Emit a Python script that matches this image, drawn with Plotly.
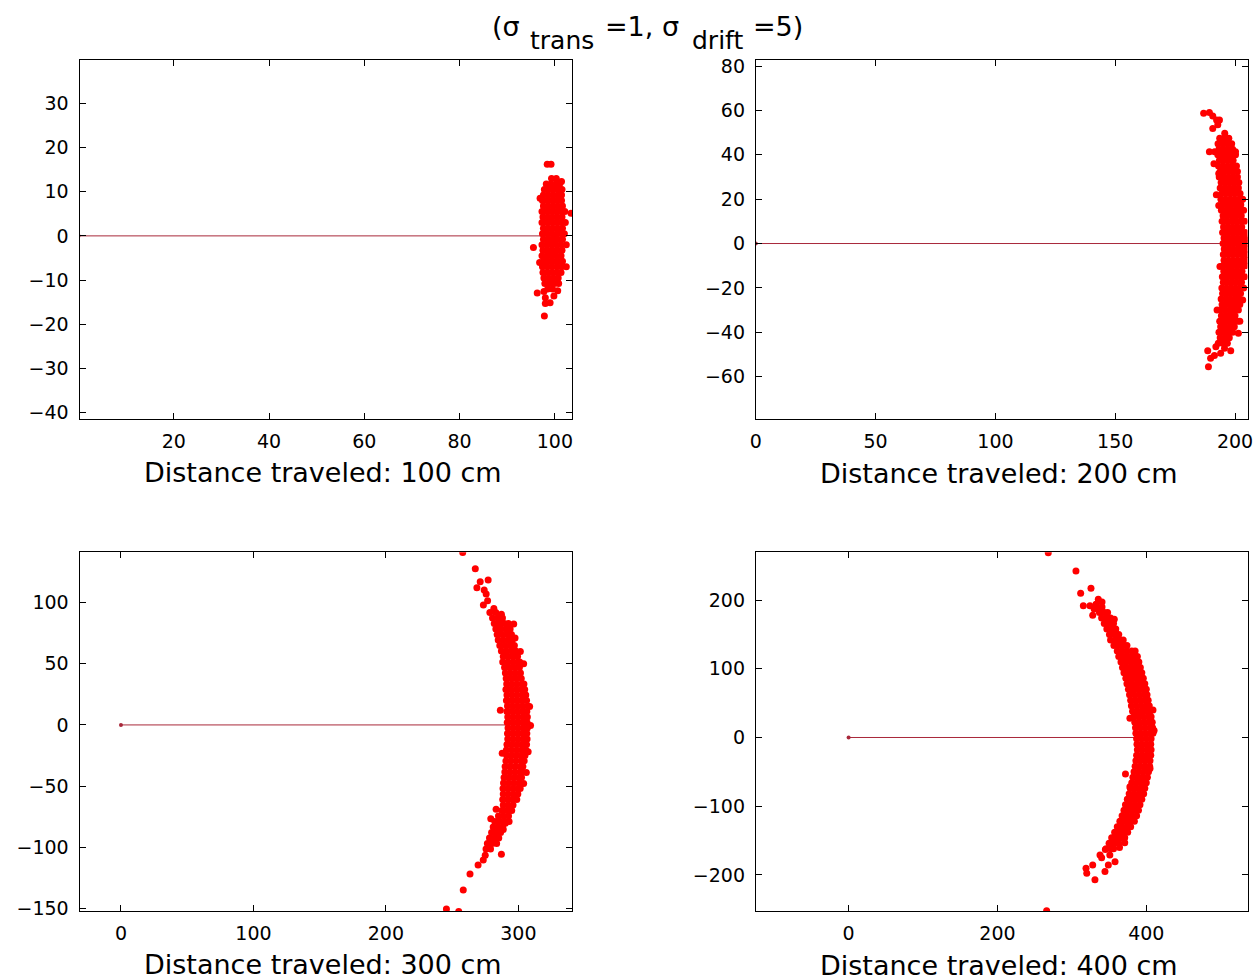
import plotly.graph_objects as go

FIG_W, FIG_H = 1260, 980

# ---------------- data ----------------
distances = [100, 200, 300, 400]
x_titles = ["Distance traveled: 100 cm", "Distance traveled: 200 cm",
            "Distance traveled: 300 cm", "Distance traveled: 400 cm"]

x_ranges = [[0.2, 103.6], [0, 205.2], [-31.3, 340.5], [-124.7, 536]]
y_ranges = [[-41.4, 39.7], [-79.1, 82.6], [-152.2, 141.2], [-252.4, 269.4]]
x_ticks = [[20, 40, 60, 80, 100], [0, 50, 100, 150, 200], [0, 100, 200, 300], [0, 200, 400]]
y_ticks = [[-40, -30, -20, -10, 0, 10, 20, 30], [-60, -40, -20, 0, 20, 40, 60, 80],
           [-150, -100, -50, 0, 50, 100], [-200, -100, 0, 100, 200]]

# panel 1 (100 cm): dense core rows (y, [x...]) and scattered points
p1_rows = [
    (13.0, [99.3, 100.3]),
    (11.75, [98.2, 99.2, 100.2, 101.0]),
    (10.5, [97.8, 98.8, 99.8, 100.8, 101.5]),
    (9.25, [97.6, 98.6, 99.6, 100.6, 101.4]),
    (8.0, [97.4, 98.4, 99.4, 100.4, 101.4]),
    (6.75, [97.6, 98.6, 99.6, 100.6, 101.6]),
    (5.5, [97.3, 98.3, 99.3, 100.3, 101.3, 102.1]),
    (4.25, [97.5, 98.5, 99.5, 100.5, 101.5]),
    (3.0, [97.3, 98.3, 99.3, 100.3, 101.3, 102.2]),
    (1.75, [97.6, 98.6, 99.6, 100.6, 101.6]),
    (0.5, [97.4, 98.4, 99.4, 100.4, 101.4, 102.0]),
    (-0.75, [97.6, 98.6, 99.6, 100.6, 101.6]),
    (-2.0, [97.3, 98.3, 99.3, 100.3, 101.3, 102.4]),
    (-3.25, [97.5, 98.5, 99.5, 100.5, 101.5]),
    (-4.5, [97.3, 98.3, 99.3, 100.3, 101.3]),
    (-5.75, [97.6, 98.6, 99.6, 100.6, 101.6]),
    (-7.0, [97.4, 98.4, 99.4, 100.4, 101.4]),
    (-8.25, [97.5, 98.5, 99.5, 100.5, 101.3]),
    (-9.5, [97.7, 98.7, 99.7, 100.7]),
    (-10.75, [97.9, 98.9, 99.9, 100.8]),
    (-12.0, [98.5, 99.5]),
]
p1_out_x = [98.4, 99.2, 103.4, 95.5, 96.3, 97.7, 98.0, 99.0, 99.8, 98.0, 97.8, 100.6, 101.4, 96.9, 96.8, 102.4]
p1_out_y = [16.2, 16.2, 5.1, -2.6, -12.9, -12.6, -14.0, -15.1, -13.6, -15.3, -18.1, -12.4, 12.3, 8.5, -6.0, -7.0]

# panel 2 (200 cm)
p2_rows = [
    (47.5, [193.6, 195.8, 197.4]),
    (45.0, [192.9, 194.9, 196.7, 198.6]),
    (42.5, [193.3, 195.2, 197.1, 199.0]),
    (40.0, [192.8, 194.7, 196.6, 198.5, 200.2]),
    (37.5, [193.5, 195.4, 197.3, 199.2]),
    (35.0, [193.1, 195.0, 196.9, 198.8, 200.6]),
    (32.5, [193.8, 195.7, 197.6, 199.5, 201.0]),
    (30.0, [193.4, 195.3, 197.2, 199.1, 201.0]),
    (27.5, [194.2, 196.1, 198.0, 199.9, 201.6]),
    (25.0, [193.8, 195.7, 197.6, 199.5, 201.4]),
    (22.5, [194.5, 196.4, 198.3, 200.2, 202.1]),
    (20.0, [194.1, 196.0, 197.9, 199.8, 201.7, 203.2]),
    (17.5, [194.8, 196.7, 198.6, 200.5, 202.4]),
    (15.0, [194.3, 196.2, 198.1, 200.0, 201.9, 203.6]),
    (12.5, [195.0, 196.9, 198.8, 200.7, 202.6]),
    (10.0, [194.6, 196.5, 198.4, 200.3, 202.2, 204.0]),
    (7.5, [195.2, 197.1, 199.0, 200.9, 202.8]),
    (5.0, [194.8, 196.7, 198.6, 200.5, 202.4, 204.2]),
    (2.5, [195.4, 197.3, 199.2, 201.1, 203.0, 204.6]),
    (0.0, [195.0, 196.9, 198.8, 200.7, 202.6, 204.4]),
    (-2.5, [195.5, 197.4, 199.3, 201.2, 203.1, 204.8]),
    (-5.0, [195.1, 197.0, 198.9, 200.8, 202.7, 204.5]),
    (-7.5, [195.4, 197.3, 199.2, 201.1, 203.0, 204.7]),
    (-10.0, [194.9, 196.8, 198.7, 200.6, 202.5, 204.3]),
    (-12.5, [195.3, 197.2, 199.1, 201.0, 202.9]),
    (-15.0, [194.7, 196.6, 198.5, 200.4, 202.3, 204.0]),
    (-17.5, [195.1, 197.0, 198.9, 200.8, 202.7]),
    (-20.0, [194.5, 196.4, 198.3, 200.2, 202.1, 203.6]),
    (-22.5, [194.8, 196.7, 198.6, 200.5, 202.3]),
    (-25.0, [194.2, 196.1, 198.0, 199.9, 201.7]),
    (-27.5, [194.6, 196.5, 198.4, 200.3, 202.0]),
    (-30.0, [193.9, 195.8, 197.7, 199.6, 201.4]),
    (-32.5, [194.3, 196.2, 198.1, 200.0]),
    (-35.0, [193.6, 195.5, 197.4, 199.3, 201.0]),
    (-37.5, [194.0, 195.9, 197.8, 199.7]),
    (-40.0, [193.3, 195.2, 197.1, 199.0]),
    (-42.5, [193.8, 195.7, 197.6]),
    (-45.0, [193.0, 194.9, 196.8]),
]
p2_out_x = [186.9, 189.3, 190.7, 192.3, 193.5, 192.8, 190.7, 195.7, 194.8, 189.3, 191.5, 200.2, 191.2,
            202.4, 205.5, 193.2, 192.2, 193.2, 193.7, 192.5, 203.2, 202.0, 201.4, 192.0, 195.6, 194.0,
            188.6, 189.8, 188.9, 191.4, 198.2, 196.0]
p2_out_y = [58.7, 59.1, 57.5, 55.7, 55.7, 53.5, 51.9, 49.7, 45.2, 41.4, 41.4, 41.4, 36.0,
            19.6, 1.6, 31.6, 22.0, 17.1, -10.4, -30.0, -25.5, -35.0, -40.5, -46.5, -47.2, -49.5,
            -48.3, -51.7, -55.5, -50.5, -48.3, -43.0]

# panel 3 (300 cm)
p3_rows = [
    (92.0, [278.5, 283.0]),
    (87.5, [280.5, 284.5, 288.0]),
    (83.0, [281.8, 285.6, 289.4, 292.5]),
    (78.5, [283.0, 286.8, 290.6, 293.8]),
    (74.0, [284.0, 287.8, 291.6, 294.8]),
    (69.5, [284.8, 288.6, 292.4, 295.4]),
    (65.0, [286.0, 289.8, 293.6, 297.0]),
    (60.5, [287.2, 291.0, 294.8, 298.0]),
    (56.0, [288.6, 292.4, 296.2, 299.4]),
    (51.5, [288.2, 292.0, 295.8, 299.6, 301.0]),
    (47.0, [289.6, 293.4, 297.2, 300.8]),
    (42.5, [290.2, 294.0, 297.8, 301.6]),
    (38.0, [290.8, 294.6, 298.4, 302.2]),
    (33.5, [291.2, 295.0, 298.8, 302.6, 304.2]),
    (29.0, [290.6, 294.4, 298.2, 302.0, 304.8]),
    (24.5, [291.4, 295.2, 299.0, 302.8, 305.6]),
    (20.0, [291.0, 294.8, 298.6, 302.4, 306.2]),
    (15.5, [291.8, 295.6, 299.4, 303.2, 307.0]),
    (11.0, [291.4, 295.2, 299.0, 302.8, 306.4]),
    (6.5, [292.0, 295.8, 299.6, 303.4, 306.8]),
    (2.0, [291.6, 295.4, 299.2, 303.0, 306.6]),
    (-2.5, [292.2, 296.0, 299.8, 303.6, 306.8]),
    (-7.0, [291.8, 295.6, 299.4, 303.2, 306.4]),
    (-11.5, [292.0, 295.8, 299.6, 303.4, 306.6]),
    (-16.0, [291.4, 295.2, 299.0, 302.8, 306.2]),
    (-20.5, [291.0, 294.8, 298.6, 302.4, 305.6]),
    (-25.0, [291.2, 295.0, 298.8, 302.6, 305.0]),
    (-29.5, [290.6, 294.4, 298.2, 302.0, 304.4]),
    (-34.0, [290.0, 293.8, 297.6, 301.4, 303.4]),
    (-38.5, [289.8, 293.6, 297.4, 301.2, 303.0]),
    (-43.0, [289.2, 293.0, 296.8, 300.6, 302.4]),
    (-47.5, [288.8, 292.6, 296.4, 300.2]),
    (-52.0, [288.4, 292.2, 296.0, 299.8, 301.4]),
    (-56.5, [288.6, 292.4, 296.2, 299.6]),
    (-61.0, [288.2, 292.0, 295.8, 298.8]),
    (-65.5, [288.6, 292.4, 296.0]),
    (-70.0, [287.6, 291.4, 295.0]),
    (-74.5, [285.0, 288.8, 292.6]),
    (-79.0, [282.2, 286.0, 289.8, 293.0]),
    (-83.5, [281.0, 284.6, 288.2]),
    (-88.0, [279.8, 283.4, 286.6]),
    (-92.5, [278.2, 281.8, 285.2]),
    (-97.0, [276.6, 280.2, 283.6]),
    (-101.5, [275.6, 279.0]),
]
p3_out_x = [258.0, 267.5, 268.7, 271.2, 277.2, 274.2, 275.7, 273.6, 276.8, 281.5, 287.2, 285.8, 296.5,
            297.5, 301.5, 304.0, 308.5, 309.2, 307.4, 306.0, 287.8, 286.4, 304.0, 283.2, 279.2, 288.6,
            287.2, 275.0, 273.5, 269.6, 263.5, 258.4, 245.7, 255.0, 290.2]
p3_out_y = [141.0, 127.8, 112.3, 117.2, 118.6, 110.4, 107.1, 98.1, 101.5, 95.2, 90.5, 78.0, 82.5,
            71.0, 60.0, 50.0, 15.0, -0.5, -22.0, -39.0, -23.2, 12.0, -48.0, -69.0, -76.8, -85.5,
            -105.8, -106.5, -110.5, -114.5, -122.0, -135.0, -150.5, -152.7, -80.5]

# panel 4 (400 cm)
p4_rows = [
    (190.0, [334.0, 340.5]),
    (182.0, [337.0, 343.5, 348.0]),
    (174.0, [340.0, 346.5, 352.0]),
    (166.0, [343.5, 350.0, 356.0]),
    (158.0, [347.0, 353.5, 359.0]),
    (150.0, [350.5, 357.0, 363.0]),
    (142.0, [352.0, 358.5, 365.0, 369.0]),
    (134.0, [356.5, 363.0, 369.5, 374.0]),
    (126.0, [361.0, 367.5, 374.0, 380.5, 385.0]),
    (118.0, [363.0, 369.5, 376.0, 382.5, 388.0]),
    (110.0, [366.0, 372.5, 379.0, 385.5, 390.0]),
    (102.0, [368.0, 374.5, 381.0, 387.5, 392.0]),
    (94.0, [370.0, 376.5, 383.0, 389.5, 394.0]),
    (86.0, [372.5, 379.0, 385.5, 392.0, 396.0]),
    (78.0, [374.0, 380.5, 387.0, 393.5, 398.0]),
    (70.0, [376.0, 382.5, 389.0, 395.5, 400.0]),
    (62.0, [377.5, 384.0, 390.5, 397.0, 401.0]),
    (54.0, [379.0, 385.5, 392.0, 398.5, 402.5]),
    (46.0, [380.0, 386.5, 393.0, 399.5, 404.0]),
    (38.0, [381.5, 388.0, 394.5, 401.0, 405.0]),
    (30.0, [383.0, 389.5, 396.0, 402.5, 406.5]),
    (22.0, [384.5, 391.0, 397.5, 404.0, 408.0]),
    (14.0, [385.5, 392.0, 398.5, 405.0, 408.5]),
    (6.0, [386.0, 392.5, 399.0, 405.5, 409.0]),
    (-2.0, [387.0, 393.5, 400.0, 406.5]),
    (-10.0, [387.5, 394.0, 400.5, 406.0]),
    (-18.0, [388.0, 394.5, 401.0, 406.5]),
    (-26.0, [387.0, 393.5, 400.0, 406.0]),
    (-34.0, [386.0, 392.5, 399.0, 405.0]),
    (-42.0, [385.0, 391.5, 398.0, 404.5]),
    (-50.0, [383.5, 390.0, 396.5, 403.0]),
    (-58.0, [382.0, 388.5, 395.0, 401.5]),
    (-66.0, [380.5, 387.0, 393.5, 400.0]),
    (-74.0, [378.5, 385.0, 391.5, 398.0]),
    (-82.0, [377.0, 383.5, 390.0, 396.5]),
    (-90.0, [374.5, 381.0, 387.5, 394.0]),
    (-98.0, [372.0, 378.5, 385.0, 391.5]),
    (-106.0, [370.0, 376.5, 383.0, 389.5]),
    (-114.0, [367.5, 374.0, 380.5, 387.0]),
    (-122.0, [364.5, 371.0, 377.5, 384.0]),
    (-130.0, [361.0, 367.5, 374.0, 379.0]),
    (-138.0, [357.5, 364.0, 370.5, 375.0]),
    (-146.0, [353.5, 360.0, 366.5, 371.0]),
    (-154.0, [350.0, 356.5, 363.0]),
    (-162.0, [346.0, 352.5]),
]
p4_out_x = [268.3, 266.1, 305.5, 311.8, 325.7, 315.4, 324.3, 332.4, 335.5, 330.0, 328.0, 340.5, 357.0,
            360.0, 378.0, 378.0, 372.0, 371.0, 351.0, 358.0, 349.0, 344.5, 337.8, 331.0, 328.0, 319.0,
            320.0, 340.0, 345.0, 356.0, 410.5, 409.0, 405.0, 364.0]
p4_out_y = [268.8, -252.0, 242.2, 209.7, 217.0, 191.7, 191.7, 193.7, 201.0, 187.0, 178.0, 197.0, 172.0,
            150.0, 28.0, -71.6, -53.0, -153.0, -171.0, -180.6, -185.5, -195.0, -171.0, -207.0, -185.5, -190.3,
            -197.5, -175.0, -163.0, -162.0, 10.0, 40.0, -45.0, -160.0]

panel_rows = [p1_rows, p2_rows, p3_rows, p4_rows]
panel_out_x = [p1_out_x, p2_out_x, p3_out_x, p4_out_x]
panel_out_y = [p1_out_y, p2_out_y, p3_out_y, p4_out_y]

# ---------------- layout geometry (pixels) ----------------
x_dom_px = [(79.5, 572.0), (755.8, 1247.5), (79.5, 572.0), (755.8, 1247.5)]
y_dom_px = [(60.3, 419.0), (60.3, 419.0), (552.3, 911.0), (552.3, 911.0)]
title_pos_px = [(323, 472.5), (999, 473), (323, 964), (999, 965)]

FONT = "DejaVu Sans"
RED = "#ff0000"
LINE_RED = "#a8283a"


def px_x(v):
    return v / FIG_W


def px_y(v):
    return 1 - v / FIG_H


fig = go.Figure()
layout_axes = {}
annotations = []

for i in range(4):
    sfx = "" if i == 0 else str(i + 1)
    xa, ya = "x" + sfx, "y" + sfx
    d = distances[i]
    # trajectory line from origin to nominal end point
    fig.add_trace(go.Scatter(x=[0, d], y=[0, 0], mode="lines+markers", xaxis=xa, yaxis=ya,
                             line=dict(color=LINE_RED, width=1),
                             marker=dict(color=LINE_RED, size=4), hoverinfo="skip"))
    xs, ys = [], []
    for yv, row in panel_rows[i]:
        for xv in row:
            xs.append(xv)
            ys.append(yv)
    xs += panel_out_x[i]
    ys += panel_out_y[i]
    fig.add_trace(go.Scatter(x=xs, y=ys, mode="markers", xaxis=xa, yaxis=ya,
                             marker=dict(color=RED, size=7, line=dict(width=0))))

    common = dict(showline=True, linecolor="black", linewidth=1, mirror="allticks",
                  ticks="inside", ticklen=6, tickwidth=1, tickcolor="black",
                  showgrid=False, zeroline=False, automargin=False,
                  tickfont=dict(family=FONT, size=19, color="black"))
    layout_axes["xaxis" + sfx] = dict(
        common, domain=[px_x(x_dom_px[i][0]), px_x(x_dom_px[i][1])],
        range=x_ranges[i], tickvals=x_ticks[i], anchor=ya, ticklabelstandoff=5)
    layout_axes["yaxis" + sfx] = dict(
        common, domain=[px_y(y_dom_px[i][1]), px_y(y_dom_px[i][0])],
        range=y_ranges[i], tickvals=y_ticks[i], anchor=xa, ticklabelstandoff=6)

    annotations.append(dict(text=x_titles[i], xref="paper", yref="paper",
                            x=px_x(title_pos_px[i][0]), y=px_y(title_pos_px[i][1]),
                            xanchor="center", yanchor="middle", showarrow=False,
                            font=dict(family=FONT, size=27, color="black")))

# super title "(σ_trans=1, σ_drift=5)" built from pieces (main text + lowered subscripts)
title_pieces = ["(σ", "trans", "=1, σ", "drift", "=5)"]
title_sizes = [27, 25, 27, 25, 27]
title_centers_px = [(505.5, 27), (561.5, 41), (642, 27), (717.5, 41), (777.5, 27)]
for txt, sz, (cx, cy) in zip(title_pieces, title_sizes, title_centers_px):
    annotations.append(dict(text=txt, xref="paper", yref="paper", x=px_x(cx), y=px_y(cy),
                            xanchor="center", yanchor="middle", showarrow=False,
                            font=dict(family=FONT, size=sz, color="black")))

fig.update_layout(width=FIG_W, height=FIG_H, margin=dict(l=0, r=0, t=0, b=0, pad=0),
                  paper_bgcolor="white", plot_bgcolor="white", showlegend=False,
                  annotations=annotations, **layout_axes)

fig.write_html("out.html", config={"displayModeBar": False},
               post_script="document.body.style.margin='0px';")
